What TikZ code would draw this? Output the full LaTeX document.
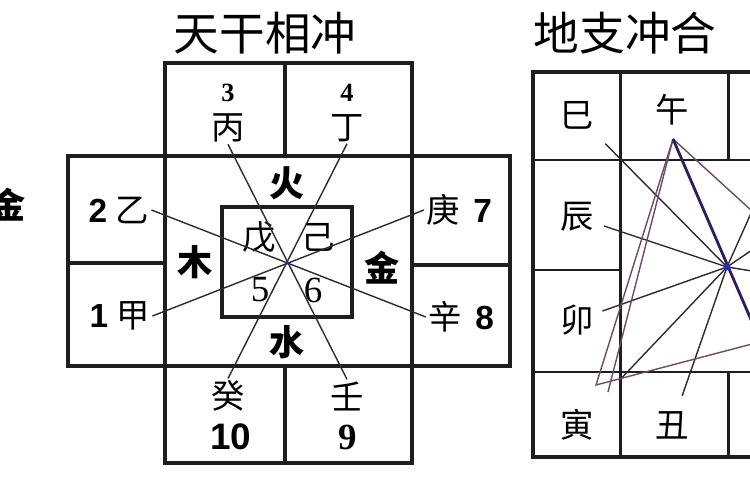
\documentclass[tikz,border=0pt]{standalone}
\usepackage{fontspec}
\setmainfont{Liberation Serif}
\newfontfamily\cjk{Noto Sans CJK SC}
\newfontfamily\arial{Liberation Sans}
\usetikzlibrary{positioning}
\definecolor{ink}{HTML}{1E1E1E}
\definecolor{rayink}{HTML}{2E2A2E}
\definecolor{violet1}{HTML}{2F1D5E}
\definecolor{mauve}{HTML}{6E4A66}
\definecolor{dotblue}{HTML}{2A2AB8}

\begin{document}
\begin{tikzpicture}[x=0.02cm, y=-0.02cm,
  outer/.style  = {draw=ink, line width=2.4pt},
  inner/.style  = {draw=ink, line width=1.7pt},
  ray/.style    = {draw=rayink, line width=0.8pt},
  tri/.style    = {draw=mauve, line width=0.8pt},
  title/.style  = {font=\cjk\fontsize{26}{26}\selectfont, inner sep=0pt},
  gan/.style    = {font=\cjk\fontsize{19}{19}\selectfont, inner sep=1pt},
  wx/.style     = {font=\cjk\bfseries\fontsize{20}{20}\selectfont, inner sep=1pt},
  snum/.style   = {font=\bfseries\fontsize{15}{15}\selectfont, inner sep=1pt},
  num/.style    = {font=\fontsize{21}{21}\selectfont, inner sep=1pt}]

\useasboundingbox (0,0) rectangle (750,500);

% titles
\node[title] (t1) at (265,33) {天干相冲};
\node[title] (t2) at (625,33) {地支冲合};
\node[wx] (jin0) at (8,205) {金};

%------------------------------ 天干: cross shaped frame ------------------------------
\draw[outer] (165,63) rectangle (412,463);
\draw[outer] (68,156) rectangle (510,366);
\draw[outer] (285,63) -- (285,156) (285,366) -- (285,463);
\draw[outer] (68,263) -- (165,263) (412,265) -- (510,265);
\draw[outer] (222,207) rectangle (352,317);

% stems round the frame
\node[snum] (n3) at (228,93) {3};
\node[gan]  (bing) at (228,128) {丙};
\node[snum] (n4) at (347,93) {4};
\node[gan]  (ding) at (347,128) {丁};
\node[gan]  (yi)   at (119,210) {{\arial\bfseries 2}\hspace{5pt}乙};
\node[gan]  (jia)  at (120,316) {{\arial\bfseries 1}\hspace{5pt}甲};
\node[gan]  (geng) at (459,210) {庚\hspace{8pt}{\arial\bfseries 7}};
\node[gan]  (xin)  at (461,317) {辛\hspace{8pt}{\arial\bfseries 8}};
\node[gan]  (gui)  at (228,396) {癸};
\node[num, font=\arial\bfseries\fontsize{21}{21}\selectfont] (n10) at (231,437) {10};
\node[gan]  (ren)  at (347,396) {壬};
\node[num, font=\bfseries\fontsize{21}{21}\selectfont] (n9) at (348,437) {9};

% elements and the centre
\node[wx] (huo)  at (287,183) {火};
\node[wx] (mu)   at (195,262) {木};
\node[wx] (jin)  at (382,268) {金};
\node[wx] (shui) at (287,342) {水};
\node[gan] (wu5) at (259,237) {戊};
\node[gan] (ji6) at (318,237) {己};
\node[num] (n5) at (260,290) {5};
\node[num] (n6) at (313,290) {6};

% clashing pairs, all through the centre
\coordinate (hub) at (287,263);
\draw[ray] (bing.south) -- (ren.north);
\draw[ray] (ding.south) -- (gui.north);
\draw[ray] (yi.east) -- (xin.west);
\draw[ray] (jia.east) -- (geng.west);
\fill[dotblue] (hub) circle[radius=1pt];

%------------------------------ 地支: grid, cut at the right ------------------------------
\draw[outer] (752,72) -- (533,72) -- (533,457) -- (752,457);
\draw[inner] (620,72) -- (620,457) (533,160) -- (752,160) (533,372) -- (752,372);
\draw[inner] (533,270) -- (620,270) (728,72) -- (728,160) (728,372) -- (728,457);

\node[gan] (si)   at (577,115) {巳};
\node[gan] (wu)   at (672,110) {午};
\node[gan] (chen) at (577,217) {辰};
\node[gan] (mao)  at (577,320) {卯};
\node[gan] (yin)  at (577,425) {寅};
\node[gan] (chou) at (672,425) {丑};

\coordinate (hub2)  at (727,267);
\coordinate (apex)  at (673,139);
\coordinate (low)   at (596,385);
\coordinate (r1)    at (752,211);
\coordinate (r2)    at (752,250);
\coordinate (r3)    at (752,271);
\coordinate (r4)    at (752,322);
\coordinate (r5)    at (752,344);

% branches to the centre
\foreach \b/\s in {si/10pt, chen/5pt, mao/4pt, yin/22pt, chou/8pt}
  \draw[ray, shorten <=\s] (\b) -- (hub2);
\foreach \r in {r1,r2,r3}
  \draw[ray] (hub2) -- (\r);

% triangle lines from 午
\draw[tri] (apex) -- (low) -- (r5);
\draw[tri] (apex) -- ++(-65,253);
\draw[tri] (apex) -- (r1);
\draw[violet1, line width=1.6pt] (apex) -- (r4);
\fill[dotblue] (hub2) circle[radius=2pt];

\end{tikzpicture}
\end{document}
